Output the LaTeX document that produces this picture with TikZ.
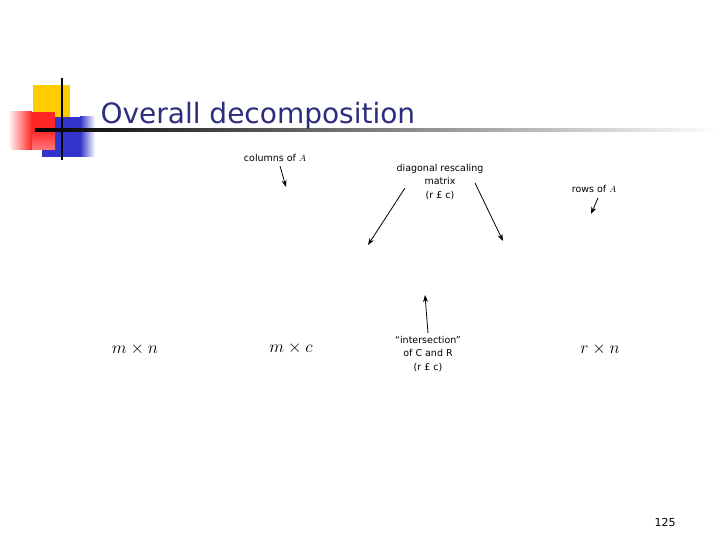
\documentclass[tikz,border=0pt]{standalone}
\usepackage{fontspec}
\setmainfont{DejaVu Sans}
\usetikzlibrary{arrows.meta}
\definecolor{ttl}{RGB}{45,45,125}
\definecolor{ylw}{RGB}{255,204,0}
\definecolor{blu}{RGB}{51,51,204}
\tikzset{lbl/.style={font=\fontsize{9.5}{13.5}\selectfont,align=center,inner sep=1pt},
 arr/.style={-{Stealth[length=7pt,width=5pt]},line width=0.8pt},
 mth/.style={font=\fontsize{16}{18}\selectfont,inner sep=1pt}}
\begin{document}
\begin{tikzpicture}[x=1pt,y=-1pt]
\useasboundingbox[fill=white] (0,0) rectangle (720,540);
\fill[ylw] (33,85) rectangle (70,120);
\fill[blu] (42,117) rectangle (80,157);
\shade[left color=blu,right color=white] (80,117) rectangle (95,157);
\shade[left color=white,right color=red!85] (8,112) rectangle (32,150);
\fill[red!85] (32,112) rectangle (55,150);
\shade[top color=red!85,bottom color=red!20,opacity=0.5] (32,130) rectangle (55,150);
\draw[line width=1.5pt] (62,78) -- (62,160);
\shade[left color=black,right color=white] (35,129) rectangle (720,131.5);
\node[anchor=west,text=ttl,font=\fontsize{28}{32}\selectfont] (title) at (97,116) {Overall decomposition};
\node[lbl] (cols) at (275,158) {columns of $A$};
\coordinate (ce) at (286,187);
\draw[arr] (280,166) -- (ce);
\node[lbl] (diag) at (440,182) {diagonal rescaling\\matrix\\(r £ c)};
\coordinate (d1) at (368,245);
\coordinate (d2) at (503,241);
\draw[arr] (405,188) -- (d1);
\draw[arr] (475,183) -- (d2);
\node[lbl] (rows) at (594,189) {rows of $A$};
\coordinate (re) at (591,214);
\draw[arr] (598,198) -- (re);
\node[lbl] (inter) at (428,354) {“intersection”\\of C and R\\(r £ c)};
\coordinate (ie) at (425,295);
\draw[arr] (428,333) -- (ie);
\node[mth] (mn) at (135,349) {$m\times n$};
\node[mth] (mc) at (291,348) {$m\times c$};
\node[mth] (rn) at (600,349) {$r\times n$};
\node[font=\fontsize{11}{12}\selectfont] (pg) at (665,522) {125};
\end{tikzpicture}
\end{document}
